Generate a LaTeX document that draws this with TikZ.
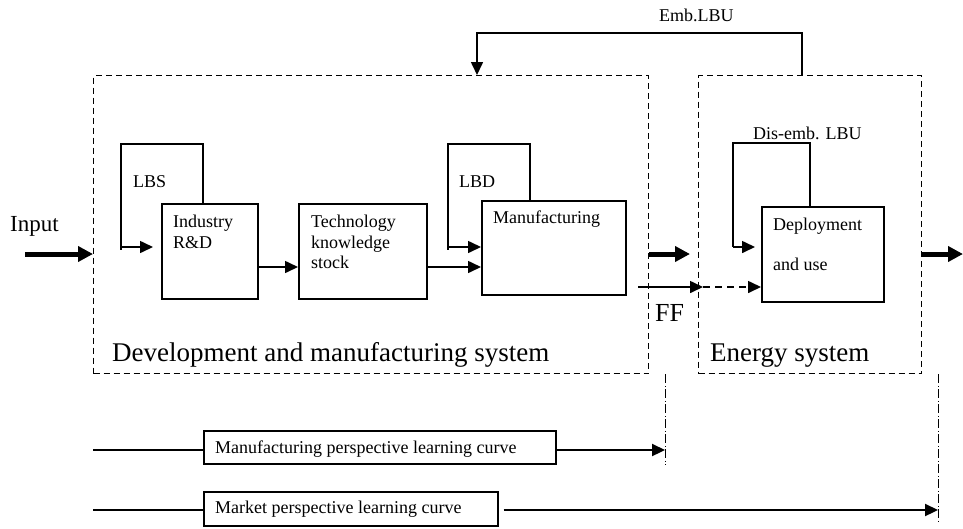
\documentclass[tikz,border=0pt]{standalone}
\usepackage{fontspec}
\setmainfont{Liberation Serif}
\usetikzlibrary{arrows.meta,calc}
\begin{document}
\begin{tikzpicture}[x=1pt,y=-1pt,
  sysbox/.style={draw,line width=1.4pt,dash pattern=on 6pt off 4pt,anchor=north west,inner sep=0pt},
  blk/.style={draw,line width=1.6pt,anchor=north west,inner sep=0pt},
  lbl/.style={anchor=base west,inner sep=0pt,font=\fontsize{18}{21}\selectfont},
  biglbl/.style={anchor=base west,inner sep=0pt,font=\fontsize{27}{30}\selectfont},
  conn/.style={line width=1.6pt,-{Triangle[length=13pt,width=12pt]}},
  flow/.style={line width=5pt,-{Triangle[length=15pt,width=15pt]}},
  curve/.style={line width=2.2pt,-{Triangle[length=13pt,width=12pt]}},
  feed/.style={line width=1.6pt},
  limit/.style={line width=1pt,dash pattern=on 9pt off 2.5pt on 1pt off 2.5pt}]
\useasboundingbox (0,0) rectangle (963,528);

% system boundaries
\node[sysbox,minimum width=555pt,minimum height=298pt] (dms) at (93,75) {};
\node[sysbox,minimum width=223pt,minimum height=298pt] (es) at (698,75) {};

% process blocks
\node[blk,minimum width=96pt,minimum height=95pt] (rd) at (161,203) {};
\node[blk,minimum width=128pt,minimum height=95pt] (tk) at (298,203) {};
\node[blk,minimum width=144pt,minimum height=94pt] (mf) at (481,200) {};
\node[blk,minimum width=122pt,minimum height=95pt] (du) at (761,206) {};

% learning-curve blocks
\node[blk,minimum width=352pt,minimum height=33pt] (mc) at (203,430) {};
\node[blk,minimum width=294pt,minimum height=34pt] (mk) at (203,491) {};

% block texts
\node[lbl] (t-ind1) at (173,227) {Industry};
\node[lbl] (t-ind2) at (173,248) {R\&D};
\node[lbl] (t-tk1) at (311,227) {Technology};
\node[lbl] (t-tk2) at (311,248) {knowledge};
\node[lbl] (t-tk3) at (311,268) {stock};
\node[lbl] (t-mf) at (493,223) {Manufacturing};
\node[lbl] (t-du1) at (773,230) {Deployment};
\node[lbl] (t-du2) at (773,270) {and use};
\node[lbl] (t-mc) at (215,453) {Manufacturing perspective learning curve};
\node[lbl] (t-mk) at (215,513) {Market perspective learning curve};

% loop labels
\node[lbl] (t-emb) at (659,21) {Emb.LBU};
\node[lbl] (t-lbs) at (133,187) {LBS};
\node[lbl] (t-lbd) at (459,187) {LBD};
\node[lbl] (t-dis) at (753,139) {Dis-emb. LBU};

% large labels
\node[anchor=base west,inner sep=0pt,font=\fontsize{23}{26}\selectfont] (t-in) at (10,231) {Input};
\node[anchor=base west,inner sep=0pt,font=\fontsize{26}{29}\selectfont] (t-ff) at (655,321) {FF};
\node[biglbl] (t-dms) at (112,361) {Development and manufacturing system};
\node[biglbl] (t-es) at (710,361) {Energy system};

% free ends of connectors
\coordinate (inp) at (25,254);
\coordinate (outp) at (963,254);
\coordinate (mid) at (690,254);
\coordinate (ffs) at (638,287);
\coordinate (ffm) at (703,287);
\coordinate (embtop) at (477,33);
\coordinate (lbstop) at (121,144);
\coordinate (lbdtop) at (448,144);
\coordinate (distop) at (733,143);
\coordinate (lbsend) at (153,247);
\coordinate (disend) at (755,247);
\coordinate (mcstart) at (93,450);
\coordinate (mkstart) at (93,510);
\coordinate (mcend) at (665,450);
\coordinate (mkend) at (938,510);

% main flow
\draw[flow] (inp) -- (inp -| dms.west);
\draw[flow] (dms.east |- mid) -- (mid);
\draw[flow] (es.east |- outp) -- (outp);

% chain of blocks
\draw[conn] (rd.east |- 0,267) -- (tk.west |- 0,267);
\draw[conn] (tk.east |- 0,267) -- (mf.west |- 0,267);

% FF flow
\draw[conn] (ffs) -- (ffm);
\draw[line width=1.6pt,dash pattern=on 7pt off 5pt,-{Triangle[length=13pt,width=12pt]}] (ffm) -- (du.west |- ffm);

% learning loops
\draw[feed] (rd.north -| 203,0) |- (lbstop) -- (lbstop |- 0,250);
\draw[conn] (lbstop |- lbsend) -- (lbsend);
\draw[feed] (mf.north -| 530,0) |- (lbdtop) -- (lbdtop |- 0,250);
\draw[conn] (lbdtop |- 0,247) -- (mf.west |- 0,247);
\draw[feed] (du.north -| 810,0) |- (distop) -- (distop |- disend);
\draw[conn] (distop |- disend) -- (disend);
\draw[conn] (es.north -| 802,0) |- (embtop) -- (embtop |- dms.north);

% learning curves
\draw[feed] (mcstart) -- (mcstart -| mc.west);
\draw[curve] (mc.east |- mcend) -- (mcend);
\draw[feed] (mkstart) -- (mkstart -| mk.west);
\draw[curve] ([xshift=5pt]mk.east |- mkend) -- (mkend);

% perspective limits
\draw[limit] (mcend |- dms.south) -- (665,465);
\draw[limit] (mkend |- es.south) -- (938,523);
\end{tikzpicture}
\end{document}
